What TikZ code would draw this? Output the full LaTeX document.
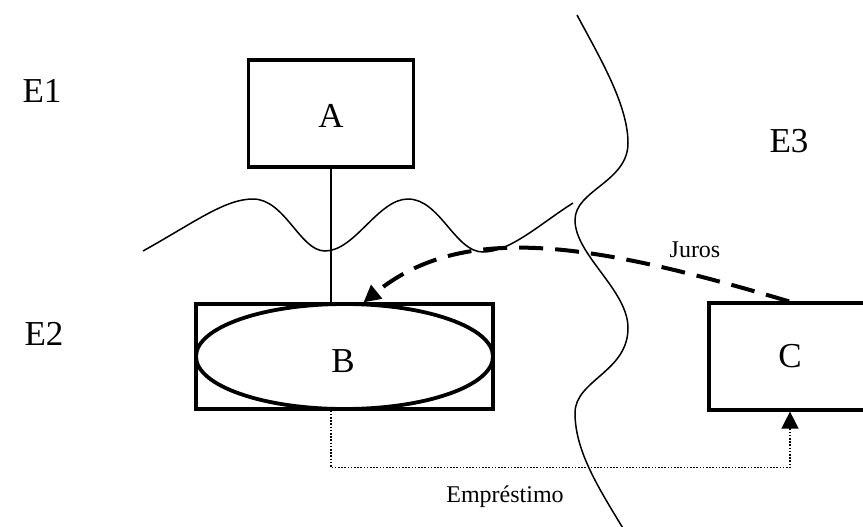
\documentclass[tikz,border=0pt]{standalone}
\usepackage{fontspec}
\setmainfont{Liberation Serif}
\usetikzlibrary{arrows.meta,shapes.geometric}
\begin{document}
\begin{tikzpicture}[x=0.5pt,y=-0.5pt,
  box/.style={draw, line width=1.6pt, rectangle, inner sep=0pt},
  big/.style={font=\fontsize{17.5}{20}\selectfont},
  small/.style={font=\fontsize{12}{14}\selectfont},
  thinline/.style={line width=0.75pt},
  tip/.style={-{Triangle[length=8.5pt,width=8.5pt]}}]
\useasboundingbox (0,0) rectangle (863,526);
\clip (0,0) rectangle (863,526);

% region labels
\node[big, anchor=base] (E1) at (42,102) {E1};
\node[big, anchor=base] (E2) at (44,345) {E2};
\node[big, anchor=base] (E3) at (789,152) {E3};

% boxes
\node[box, big, minimum width=82.5pt, minimum height=53.5pt] (A) at (331,113.5) {};
\node[big, anchor=base] (Alabel) at (331,127) {A};
\node[box, minimum width=148.5pt, minimum height=52.5pt] (Bbox) at (344.5,356.5) {};
\node[draw, ellipse, line width=1.9pt, inner sep=0pt,
      minimum width=148.5pt, minimum height=52.5pt] (Bell) at (344.5,356.5) {};
\node[big, anchor=base] (B) at (343,372) {B};
\node[box, minimum width=80pt, minimum height=53.5pt] (C) at (789,356.5) {};
\node[big, anchor=base] (Clabel) at (790,367) {C};

% boundaries between the regions
\draw[thinline] (143,251) .. controls (195,222) and (225,199) .. (253,199)
  .. controls (285,199) and (300,251) .. (325,251)
  .. controls (355,251) and (378,199) .. (408,199)
  .. controls (440,199) and (455,252) .. (483,252)
  .. controls (510,252) and (540,224) .. (573,203);
\draw[thinline] (577,15) .. controls (600,58) and (628,105) .. (628,143)
  .. controls (628,182) and (575,190) .. (575,220)
  .. controls (575,255) and (628,290) .. (628,328)
  .. controls (628,372) and (575,380) .. (575,413)
  .. controls (575,452) and (600,490) .. (624,530);

% links
\draw[thinline] (A.south) -- (A.south |- Bbox.north);
\draw[line width=2pt, dash pattern=on 12pt off 6pt, tip]
  (C.north) .. controls (590,242) and (463,222) .. ([xshift=9.5pt]Bbox.north);
\node[small, anchor=base] (juros) at (695,257) {Juros};
\draw[thinline, dash pattern=on 0.8pt off 0.8pt, tip]
  (A.south |- Bbox.south) -- ++(0,57) -| ([xshift=0.5pt]C.south);
\node[small, anchor=base] (emp) at (505,502) {Empréstimo};
\end{tikzpicture}
\end{document}
